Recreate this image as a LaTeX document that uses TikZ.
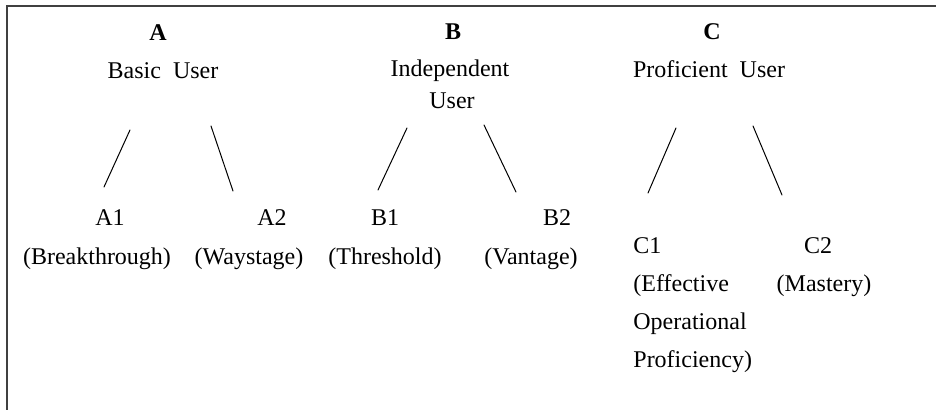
\documentclass[tikz,border=0pt]{standalone}
\usepackage{fontspec}
\setmainfont{Liberation Serif}
\usetikzlibrary{positioning}
\tikzset{
	Txt/.style={font=\fontsize{12pt}{14pt}\selectfont,inner sep=0pt},
	Level/.style={Txt,font=\fontsize{12pt}{14pt}\selectfont\bfseries,anchor=base},
	Label/.style={Txt,anchor=base},
	LabelL/.style={Txt,anchor=base west},
	Branch/.style={line width=0.5pt,line cap=round},
	Frame/.style={line width=0.8pt,black!75}
}
\begin{document}
\begin{tikzpicture}[x=0.5pt,y=-0.5pt]
	\useasboundingbox (0,0) rectangle (936,410);
	% frame, only top and left edge
	\draw[Frame] (936,6) -- (7,6) -- (7,410);
	% level A
	\node[Level] (A) at (158,41) {A};
	\node[Label] (Auser) at (163,79) {Basic\ \ User};
	\node[Label] (A1) at (110,226) {A1};
	\node[Label] (A1d) at (97,265) {(Breakthrough)};
	\node[Label] (A2) at (272,226) {A2};
	\node[Label] (A2d) at (249,265) {(Waystage)};
	% level B
	\node[Level] (B) at (453,40) {B};
	\node[Label] (Buser) at (450,77) {Independent};
	\node[Label] (Buser2) at (452,109) {User};
	\node[Label] (B1) at (385,226) {B1};
	\node[Label] (B1d) at (385,265) {(Threshold)};
	\node[Label] (B2) at (557,226) {B2};
	\node[Label] (B2d) at (531,265) {(Vantage)};
	% level C
	\node[Level] (C) at (712,40) {C};
	\node[Label] (Cuser) at (709,78) {Proficient\ \ User};
	\node[LabelL] (C1) at (633,254) {C1};
	\node[LabelL] (C1d) at (633,292) {(Effective};
	\node[LabelL] (C1e) at (633,330) {Operational};
	\node[LabelL] (C1f) at (633,368) {Proficiency)};
	\node[Label] (C2) at (818,254) {C2};
	\node[Label] (C2d) at (824,292) {(Mastery)};
	% branch ends
	\coordinate (aL) at (130,130); \coordinate (aL') at (104,187);
	\coordinate (aR) at (211,126); \coordinate (aR') at (233,191);
	\coordinate (bL) at (407,128); \coordinate (bL') at (378,190);
	\coordinate (bR) at (484,125); \coordinate (bR') at (516,192);
	\coordinate (cL) at (676,128); \coordinate (cL') at (648,193);
	\coordinate (cR) at (753,126); \coordinate (cR') at (782,195);
	\foreach \g in {a,b,c} {
		\draw[Branch] (\g L) -- (\g L');
		\draw[Branch] (\g R) -- (\g R');
	}
\end{tikzpicture}
\end{document}
